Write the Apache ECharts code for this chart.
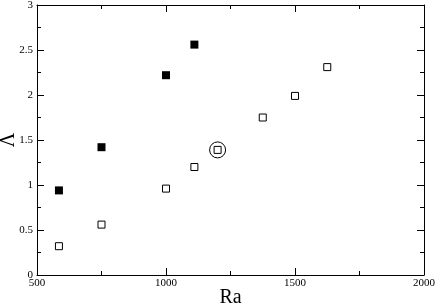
<!DOCTYPE html>
<html><head><meta charset="utf-8">
<script src="https://cdn.jsdelivr.net/npm/echarts@6/dist/echarts.min.js"></script>
<style>html,body{margin:0;padding:0;background:#fff}#c{width:436px;height:307px}</style>
</head><body><div id="c"></div>
<script>
const filledRa = [585, 750, 1000, 1110];
const filledLambda = [0.94, 1.42, 2.22, 2.56];
const openRa = [585, 750, 1000, 1110, 1200, 1375, 1500, 1625];
const openLambda = [0.32, 0.56, 0.96, 1.2, 1.39, 1.75, 1.99, 2.31];
const circledRa = [1200];
const circledLambda = [1.39];
const xTicks = [500, 1000, 1500, 2000];
const yTicks = [0, 0.5, 1, 1.5, 2, 2.5, 3];

const zip = (a, b) => a.map((v, i) => [v, b[i]]);
const font = 'Liberation Serif';
const fmt = v => String(v);
function axisBase(show) {
  return {
    type: 'value',
    axisLine: { show: true, onZero: false, lineStyle: { color: '#000', width: 1 } },
    axisTick: { show: true, inside: true, length: 7, lineStyle: { color: '#000' } },
    minorTick: { show: true, splitNumber: 2, length: 4, lineStyle: { color: '#000' } },
    splitLine: { show: false },
    minorSplitLine: { show: false },
    axisLabel: { show: show, color: '#000', fontFamily: font, fontSize: 11, formatter: fmt }
  };
}
const chart = echarts.init(document.getElementById('c'), null, { renderer: 'canvas' });
chart.setOption({
  animation: false,
  backgroundColor: '#fff',
  grid: { left: 37, right: 12, top: 5, bottom: 32, containLabel: false, outerBoundsMode: 'none' },
  xAxis: [
    Object.assign(axisBase(true), {
      position: 'bottom', min: xTicks[0], max: xTicks[xTicks.length - 1], interval: 500,
      name: 'Ra', nameLocation: 'middle', nameGap: 13, nameMoveOverlap: false,
      nameTextStyle: { fontFamily: font, fontSize: 20, color: '#000', verticalAlign: 'top' },
      axisLabel: { show: true, color: '#000', fontFamily: font, fontSize: 11, margin: 3, formatter: fmt }
    }),
    Object.assign(axisBase(false), { position: 'top', min: 500, max: 2000, interval: 500 })
  ],
  yAxis: [
    Object.assign(axisBase(true), {
      position: 'left', min: yTicks[0], max: yTicks[yTicks.length - 1], interval: 0.5,
      name: 'Λ', nameLocation: 'middle', nameGap: 18, nameRotate: 90, nameMoveOverlap: false,
      nameTextStyle: { fontFamily: font, fontSize: 20, color: '#000', verticalAlign: 'bottom' },
      axisLabel: { show: true, color: '#000', fontFamily: font, fontSize: 11, margin: 4, formatter: fmt }
    }),
    Object.assign(axisBase(false), { position: 'right', min: 0, max: 3, interval: 0.5 })
  ],
  series: [
    { type: 'scatter', data: zip(filledRa, filledLambda), symbol: 'rect', symbolSize: 8,
      itemStyle: { color: '#000', borderColor: '#000', borderWidth: 0, opacity: 1 } },
    { type: 'scatter', data: zip(openRa, openLambda), symbol: 'rect', symbolSize: 7,
      itemStyle: { color: '#fff', borderColor: '#000', borderWidth: 1, opacity: 1 } },
    { type: 'scatter', data: zip(circledRa, circledLambda), symbol: 'circle', symbolSize: 16,
      itemStyle: { color: 'rgba(0,0,0,0)', borderColor: '#000', borderWidth: 1, opacity: 1 } }
  ]
});
</script></body></html>
